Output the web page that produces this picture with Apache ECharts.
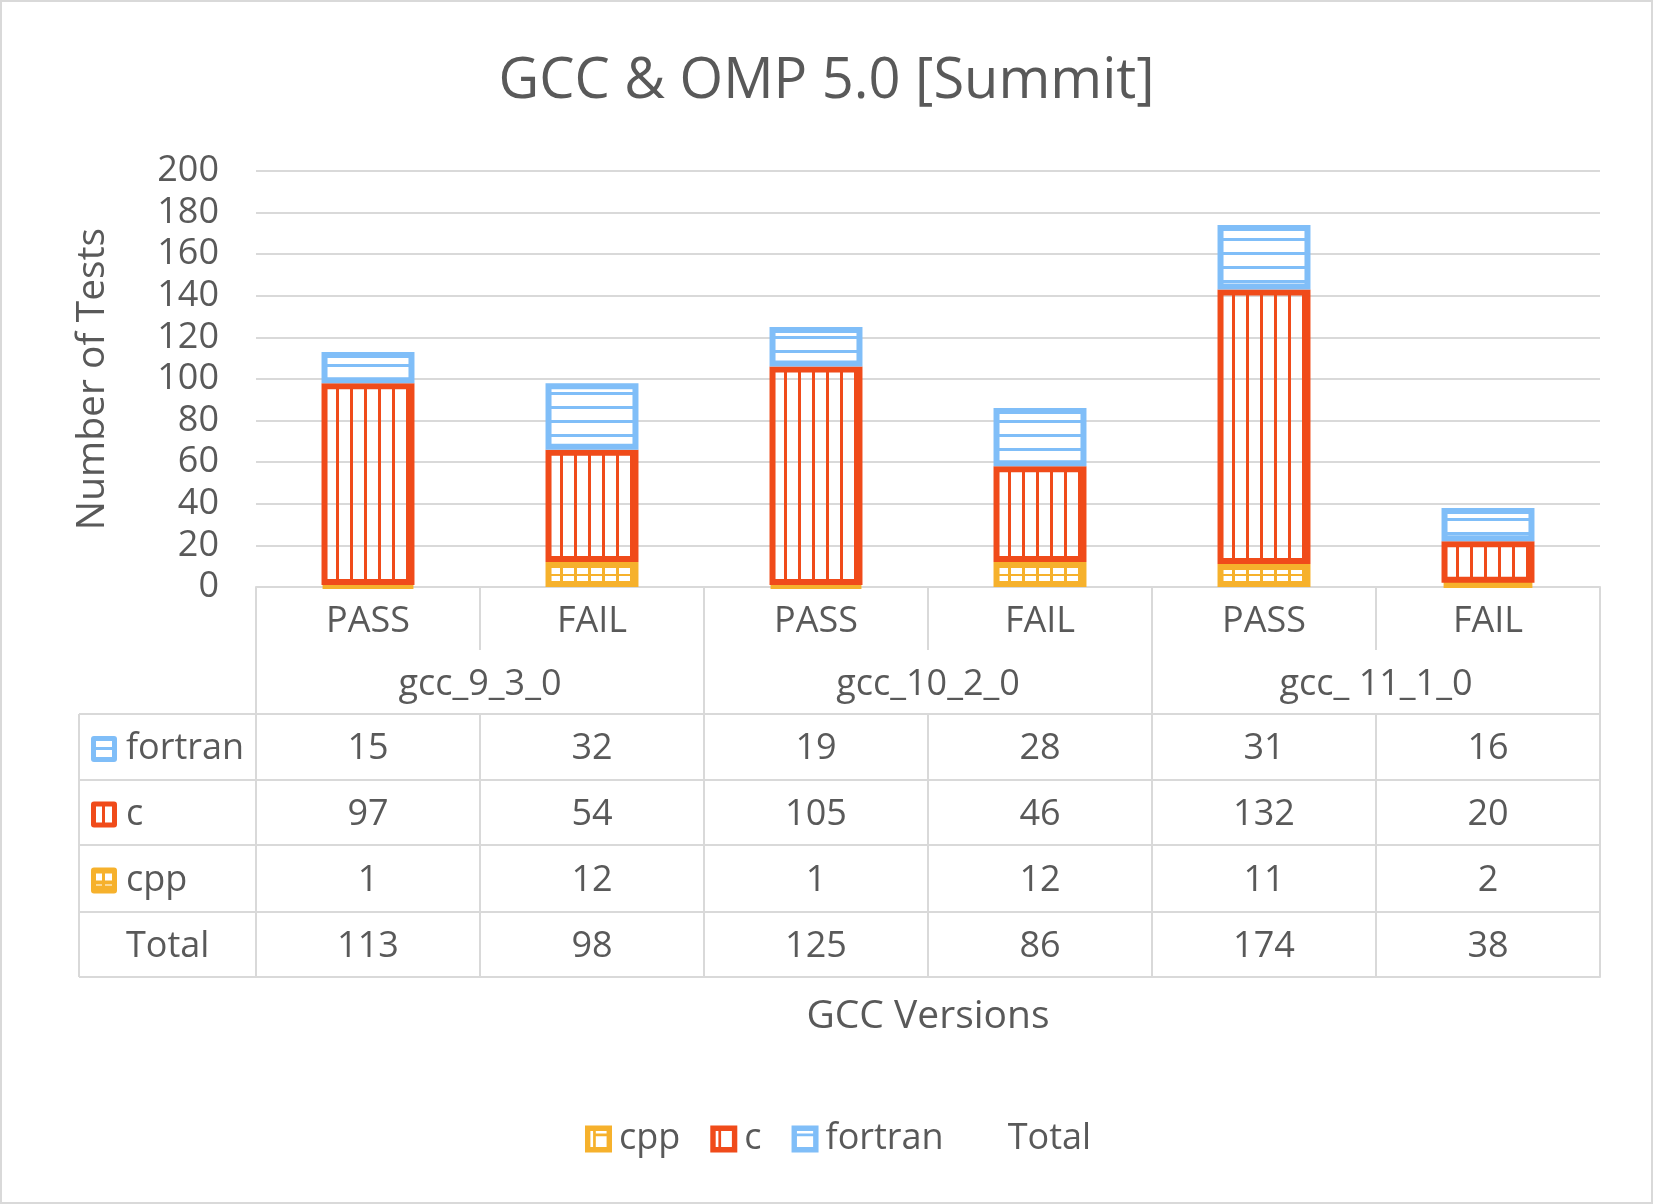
<!DOCTYPE html>
<html>
<head>
<meta charset="utf-8">
<title>GCC &amp; OMP 5.0 [Summit]</title>
<script src="https://cdn.jsdelivr.net/npm/echarts@6/dist/echarts.min.js"></script>
<style>
  html, body { margin: 0; padding: 0; background: #fff; }
  #chart { width: 1653px; height: 1204px; }
</style>
</head>
<body>
<div id="chart"></div>
<script>
/* Data */
const categories = ["PASS", "FAIL", "PASS", "FAIL", "PASS", "FAIL"];
const versions = ["gcc_9_3_0", "gcc_10_2_0", "gcc_ 11_1_0"];
const cppValues = [1, 12, 1, 12, 11, 2];
const cValues = [97, 54, 105, 46, 132, 20];
const fortranValues = [15, 32, 19, 28, 31, 16];
const totalValues = [113, 98, 125, 86, 174, 38];
const yMin = 0, yMax = 200, yStep = 20;

/* Style */
const CPP = "#F6B12C", C = "#F04B1A", FORTRAN = "#80BEF8";
const TEXT = "#595959", LINE = "#D9D9D9";
const FONT = "'Open Sans', 'Noto Sans', sans-serif";

/* Layout (px) */
const GRID = { left: 256, right: 53, top: 171, bottom: 617 };
const AXIS_Y = 1204 - GRID.bottom;             // y of the value-0 line
const ROW_TOPS = [127, 193, 258, 325, 390];    // table row edges, as offsets under the axis
const COL_LEFT = 79;

function stripes(color, vertical, horizontal) {
  const cv = document.createElement("canvas");
  cv.width = 14; cv.height = 14;
  const ctx = cv.getContext("2d");
  ctx.fillStyle = color;
  if (vertical) ctx.fillRect(0, 0, 3, 14);
  if (horizontal) ctx.fillRect(0, 0, 14, horizontal);
  return { image: cv, repeat: "repeat" };
}

const tableRows = [
  { name: "fortran", values: fortranValues, color: FORTRAN },
  { name: "c", values: cValues, color: C },
  { name: "cpp", values: cppValues, color: CPP },
  { name: "Total", values: totalValues, color: null }
];

const labelStyle = { color: TEXT, fontSize: 36, fontFamily: FONT };
const lineStyle = { color: LINE, width: 2 };

function tableAxis(data, offset, tickLen, margin, showLine) {
  return {
    type: "category",
    position: "bottom",
    offset: offset,
    data: data,
    axisLine: { show: showLine, onZero: false, lineStyle: lineStyle },
    axisTick: { show: tickLen > 0, length: tickLen, lineStyle: lineStyle },
    axisLabel: Object.assign({ margin: margin, interval: 0 }, labelStyle),
    splitLine: { show: false }
  };
}

const xAxes = [
  tableAxis(categories, 0, 63, 17, true),
  tableAxis(versions, 63, 64, 17, false)
];
tableRows.forEach((row, i) => {
  const h = ROW_TOPS[i + 1] - ROW_TOPS[i];
  xAxes.push(tableAxis(row.values.map(String), ROW_TOPS[i], h, Math.round(h / 2 - 16), true));
});
const bottomAxis = tableAxis(categories, ROW_TOPS[4], 0, 0, true);
bottomAxis.axisLabel.show = false;
bottomAxis.name = "GCC Versions";
bottomAxis.nameLocation = "middle";
bottomAxis.nameGap = 20;
bottomAxis.nameTextStyle = { color: TEXT, fontSize: 39, fontFamily: FONT };
xAxes.push(bottomAxis);

/* Left column of the data table */
const graphics = [
  { type: "rect", shape: { x: 1, y: 1, width: 1651, height: 1202 },
    style: { fill: null, stroke: LINE, lineWidth: 2 }, silent: true }
];
const rowEdges = ROW_TOPS.map(o => AXIS_Y + o);
rowEdges.forEach(y => {
  graphics.push({ type: "line", shape: { x1: COL_LEFT, y1: y, x2: GRID.left, y2: y },
    style: { stroke: LINE, lineWidth: 2 }, silent: true });
});
graphics.push({ type: "line", shape: { x1: COL_LEFT, y1: rowEdges[0], x2: COL_LEFT, y2: rowEdges[4] },
  style: { stroke: LINE, lineWidth: 2 }, silent: true });

const iconHoles = {
  fortran: [[5, 5, 16, 6], [5, 14, 16, 7]],
  c: [[5, 5, 6, 16], [14, 5, 7, 16]],
  cpp: [[5, 6, 6, 7], [14, 6, 7, 7], [5, 17, 6, 1], [14, 17, 7, 1]]
};
tableRows.forEach((row, i) => {
  const cy = (rowEdges[i] + rowEdges[i + 1]) / 2 + 2;
  if (row.color) {
    graphics.push({ type: "rect", shape: { x: 91, y: cy - 13, width: 26, height: 26, r: 3 },
      style: { fill: row.color }, silent: true });
    iconHoles[row.name].forEach(h => {
      graphics.push({ type: "rect", shape: { x: 91 + h[0], y: cy - 13 + h[1], width: h[2], height: h[3] },
        style: { fill: "#fff" }, silent: true });
    });
  }
  graphics.push({ type: "text", x: 126, y: cy,
    style: { text: row.name, fill: TEXT, fontSize: 36, fontFamily: FONT, verticalAlign: "middle", align: "left" },
    silent: true });
});

/* Legend icons with cut-outs */
const legendIcons = {
  cpp: "path://M0,0H10V10H0Z M2,2V8H3V2Z M4,4V8H8V4Z M4,2V3H8V2Z",
  c: "path://M0,0H10V10H0Z M2,2V8H3V2Z M4,2V8H8V2Z",
  fortran: "path://M0,0H10V10H0Z M2,2V3H8V2Z M2,4V8H8V4Z"
};

function barSeries(name, values, color, pattern) {
  return {
    name: name,
    type: "bar",
    stack: "tests",
    xAxisIndex: 0,
    barWidth: "41.5%",
    data: values,
    itemStyle: { color: pattern, borderColor: color, borderWidth: 6 },
    emphasis: { disabled: true }
  };
}

const chart = echarts.init(document.getElementById("chart"));
chart.setOption({
  animation: false,
  backgroundColor: "#fff",
  textStyle: { fontFamily: FONT },
  title: {
    text: "GCC & OMP 5.0 [Summit]",
    left: "center",
    top: 49,
    textStyle: { color: TEXT, fontSize: 56, fontWeight: "normal", fontFamily: FONT }
  },
  grid: GRID,
  legend: {
    left: 580,
    top: 1116,
    itemWidth: 27,
    itemHeight: 27,
    itemGap: 30,
    textStyle: { color: TEXT, fontSize: 36, fontFamily: FONT, padding: [0, 0, 0, 2] },
    data: [
      { name: "cpp", icon: legendIcons.cpp, itemStyle: { color: CPP, borderWidth: 0 } },
      { name: "c", icon: legendIcons.c, itemStyle: { color: C, borderWidth: 0 } },
      { name: "fortran", icon: legendIcons.fortran, itemStyle: { color: FORTRAN, borderWidth: 0 } },
      { name: "Total", icon: "rect", itemStyle: { color: "rgba(0,0,0,0)", borderWidth: 0 } }
    ]
  },
  xAxis: xAxes,
  yAxis: {
    type: "value",
    min: yMin,
    max: yMax,
    interval: yStep,
    axisLine: { show: false },
    axisTick: { show: false },
    axisLabel: { color: TEXT, fontSize: 36, fontFamily: FONT, margin: 37 },
    splitLine: { lineStyle: lineStyle },
    name: "Number of Tests",
    nameLocation: "middle",
    nameGap: 144,
    nameTextStyle: { color: TEXT, fontSize: 39, fontFamily: FONT }
  },
  series: [
    barSeries("cpp", cppValues, CPP, stripes(CPP, true, 2)),
    barSeries("c", cValues, C, stripes(C, true, 0)),
    barSeries("fortran", fortranValues, FORTRAN, stripes(FORTRAN, false, 3)),
    {
      name: "Total",
      type: "line",
      xAxisIndex: 0,
      data: totalValues,
      symbol: "none",
      silent: true,
      lineStyle: { opacity: 0 },
      itemStyle: { color: "rgba(0,0,0,0)" }
    }
  ],
  graphic: graphics
});
</script>
</body>
</html>
